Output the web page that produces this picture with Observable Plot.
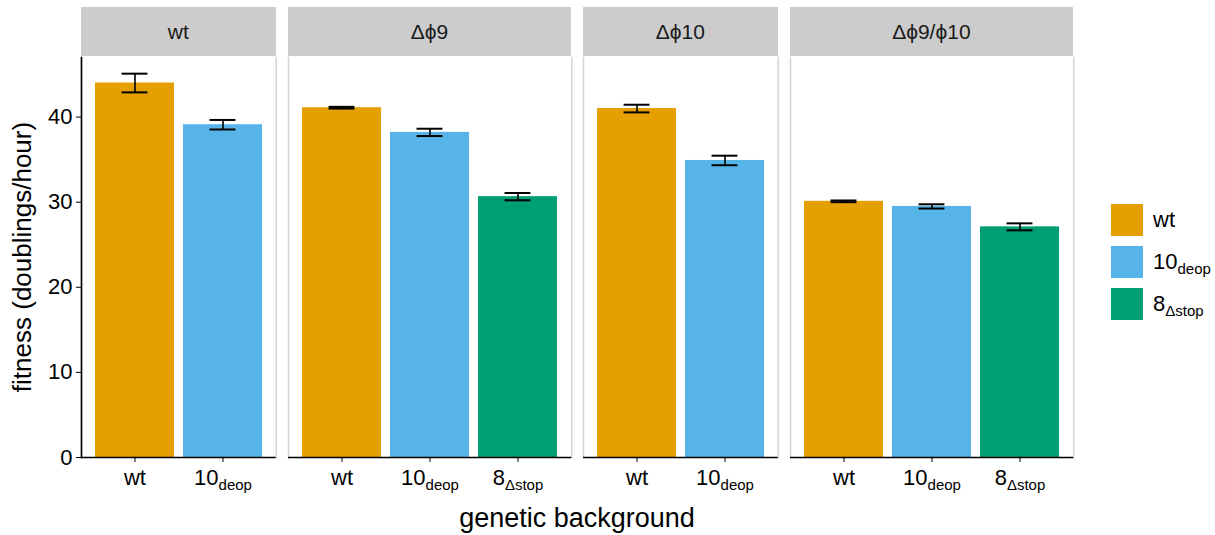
<!DOCTYPE html>
<html>
<head>
<meta charset="utf-8">
<script src="https://cdn.jsdelivr.net/npm/d3@7"></script>
<script src="https://cdn.jsdelivr.net/npm/@observablehq/plot@0.6"></script>
<style>
  html, body { margin: 0; padding: 0; background: #fff; }
  body { font-family: "Liberation Sans", Arial, Helvetica, sans-serif; color: #000; }
  #chart { position: relative; width: 1215px; height: 535px; overflow: hidden; }
  #chart svg { position: absolute; top: 0; overflow: visible; }
  .strip { position: absolute; background: #cccccc; color: #1a1a1a; font-size: 21px;
           display: flex; align-items: center; justify-content: center; }
  .ytitle { position: absolute; font-size: 26px; white-space: nowrap;
            transform: translate(-50%, -50%) rotate(-90deg); }
  .xtitle { position: absolute; font-size: 27px; white-space: nowrap; transform: translate(-50%, -50%); }
  .legend { position: absolute; left: 1111px; top: 204px; }
  .legend .item { display: flex; align-items: center; height: 32px; margin-bottom: 10px; }
  .legend .key { width: 32px; height: 32px; margin-right: 10px; }
  .legend .lab { font-size: 22px; }
  .legend sub { font-size: 15px; vertical-align: -0.3em; line-height: 0; }
  svg g[aria-label="x-axis tick label"], svg g[aria-label="y-axis tick label"] { font-size: 22px; }
</style>
</head>
<body>
<div id="chart"></div>
<script>
// ---- data ----
const panels = ["wt", "Δϕ9", "Δϕ10", "Δϕ9/ϕ10"];
const panelOf = ["wt", "wt", "Δϕ9", "Δϕ9", "Δϕ9", "Δϕ10", "Δϕ10", "Δϕ9/ϕ10", "Δϕ9/ϕ10", "Δϕ9/ϕ10"];
const genotype = ["wt", "10_deop", "wt", "10_deop", "8_Δstop", "wt", "10_deop", "wt", "10_deop", "8_Δstop"];
const fitness = [44.0, 39.1, 41.1, 38.2, 30.65, 41.0, 34.9, 30.1, 29.5, 27.1];
const se = [1.1, 0.56, 0.1, 0.43, 0.43, 0.45, 0.56, 0.1, 0.25, 0.41];
const genotypes = ["wt", "10_deop", "8_Δstop"];
const colors = ["#E69F00", "#56B4E9", "#009E73"];
const yTicks = [0, 10, 20, 30, 40];
const yMax = 47;
const xTitle = "genetic background";
const yTitle = "fitness (doublings/hour)";

(function () {
const rows = panelOf.map((p, i) => ({
  panel: p, genotype: genotype[i], fitness: fitness[i],
  lo: fitness[i] - se[i], hi: fitness[i] + se[i]
}));

// ---- layout ----
const H = 535;
const plotLeft = 81, plotRight = 1073, gap = 12;
const pTop = 57, pBottom = 457;
const stripTop = 7;
const counts = panels.map(p => rows.filter(r => r.panel === p).length);
const units = d3.sum(counts, n => n + 0.2);
const unit = (plotRight - plotLeft - gap * (panels.length - 1)) / units;
const capInset = 0.3 * unit;

function subHTML(s) {
  const [a, b] = s.split("_");
  return b ? `${a}<sub>${b}</sub>` : a;
}

const chart = document.getElementById("chart");
let xPos = plotLeft;
panels.forEach((p, i) => {
  const data = rows.filter(r => r.panel === p);
  const pw = (counts[i] + 0.2) * unit;
  const ml = i === 0 ? plotLeft : 0;
  const marks = [
    Plot.barY(data, { x: "genotype", y: "fitness", fill: "genotype" }),
    Plot.ruleX(data, { x: "genotype", y1: "lo", y2: "hi", stroke: "black", strokeWidth: 1.6 }),
    Plot.tickY(data, { x: "genotype", y: "lo", stroke: "black", strokeWidth: 2, insetLeft: capInset, insetRight: capInset }),
    Plot.tickY(data, { x: "genotype", y: "hi", stroke: "black", strokeWidth: 2, insetLeft: capInset, insetRight: capInset }),
    Plot.frame({ anchor: "left", stroke: "#d4d4d4", strokeWidth: 1.5 }),
    Plot.frame({ anchor: "right", stroke: "#d4d4d4", strokeWidth: 1.5 }),
    Plot.ruleY([0], { stroke: "black", strokeWidth: 1.6 }),
    Plot.axisX({ tickSize: 5, tickPadding: 7, tickFormat: d => d, label: null, stroke: "black" })
  ];
  if (i === 0) {
    marks.push(Plot.frame({ anchor: "left", stroke: "black", strokeWidth: 1.6 }));
    marks.push(Plot.axisY({ ticks: yTicks, tickSize: 5, tickPadding: 4, label: null, stroke: "black" }));
  }
  const svg = Plot.plot({
    width: ml + pw, height: H,
    marginLeft: ml, marginRight: 0, marginTop: pTop, marginBottom: H - pBottom,
    x: { domain: data.map(d => d.genotype), paddingInner: 0.1, paddingOuter: 0.15, axis: null },
    y: { domain: [0, yMax], axis: null },
    color: { domain: genotypes, range: colors },
    style: { fontFamily: "'Liberation Sans', Arial, sans-serif", fontSize: "22px", color: "black", background: "transparent", overflow: "visible" },
    marks
  });
  svg.style.left = (xPos - ml) + "px";
  d3.select(svg).selectAll('g[aria-label="x-axis tick label"] text').each(function () {
    const t = this.textContent;
    const [a, b] = t.split("_");
    if (b) {
      this.textContent = a;
      d3.select(this).append("tspan").attr("font-size", "15px").attr("dy", "0.35em").text(b);
    }
  });
  chart.appendChild(svg);

  const strip = document.createElement("div");
  strip.className = "strip";
  strip.style.left = xPos + "px";
  strip.style.top = stripTop + "px";
  strip.style.width = pw + "px";
  strip.style.height = (pTop - stripTop - 1) + "px";
  strip.textContent = p;
  chart.appendChild(strip);

  xPos += pw + gap;
});

const yt = document.createElement("div");
yt.className = "ytitle";
yt.style.left = "22px";
yt.style.top = ((pTop + pBottom) / 2) + "px";
yt.textContent = yTitle;
chart.appendChild(yt);

const xt = document.createElement("div");
xt.className = "xtitle";
xt.style.left = ((plotLeft + plotRight) / 2) + "px";
xt.style.top = "518px";
xt.textContent = xTitle;
chart.appendChild(xt);

const leg = document.createElement("div");
leg.className = "legend";
genotypes.forEach((g, i) => {
  const item = document.createElement("div");
  item.className = "item";
  item.innerHTML = `<div class="key" style="background:${colors[i]}"></div><div class="lab">${subHTML(g)}</div>`;
  leg.appendChild(item);
});
chart.appendChild(leg);
})();
</script>
</body>
</html>
